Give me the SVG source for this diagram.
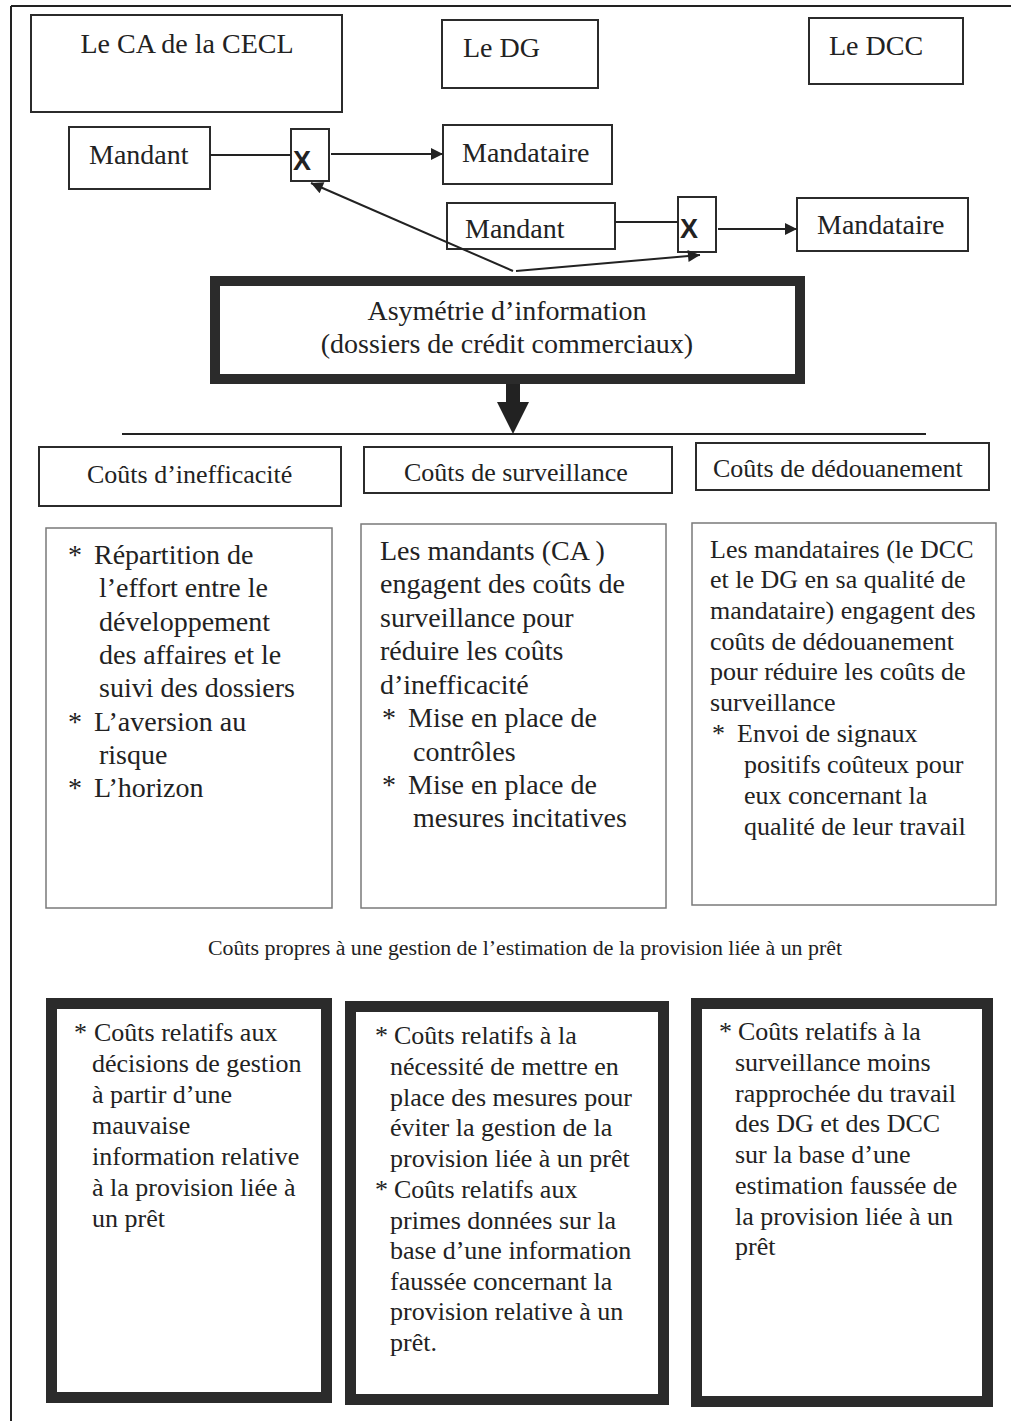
<svg xmlns="http://www.w3.org/2000/svg" width="1011" height="1421" viewBox="0 0 1011 1421">
<style>
text{font-family:"Liberation Serif","Times New Roman",serif;fill:#222}
.t28{font-size:28px}
.t26{font-size:26px}
.cap{font-size:21.9px}
.x{font-family:"Liberation Sans",Arial,sans-serif;font-weight:bold;font-size:27px}
.box{fill:#fff;stroke:#2b2b2b;stroke-width:2}
.gbox{fill:#fff;stroke:#7a7a7a;stroke-width:1.5}
.thick{fill:#fff;stroke:#2b2b2b;stroke-width:11}
.ln{stroke:#222;stroke-width:2;fill:none}
</style>
<defs>
<marker id="ah" viewBox="0 0 10 10" refX="10" refY="5" markerWidth="16" markerHeight="12" markerUnits="userSpaceOnUse" orient="auto">
<path d="M0,0 L10,5 L0,10 z" fill="#222"/>
</marker>
</defs>
<rect x="0" y="0" width="1011" height="1421" fill="#fff"/>
<g id="frame">
<line x1="11" y1="6" x2="1011" y2="6" class="ln"/>
<line x1="11" y1="6" x2="11" y2="1421" class="ln"/>
</g>

<g id="ca"><rect class="box" x="31" y="15" width="311" height="97"/><text class="t28" x="187" y="53" text-anchor="middle">Le CA de la CECL</text></g>
<g id="dg"><rect class="box" x="442" y="20" width="156" height="68"/><text class="t28" x="463" y="57">Le DG</text></g>
<g id="dcc"><rect class="box" x="809" y="18" width="154" height="66"/><text class="t28" x="829" y="55">Le DCC</text></g>

<g id="mandant1"><rect class="box" x="69" y="127" width="141" height="62"/><text class="t28" x="89" y="164">Mandant</text></g>
<g id="x1"><rect class="box" x="291" y="129" width="38" height="52"/><text class="x" x="293" y="170">X</text></g>
<g id="mandataire1"><rect class="box" x="443" y="125" width="169" height="59"/><text class="t28" x="462" y="162">Mandataire</text></g>

<g id="mandant2"><rect class="box" x="447" y="203" width="168" height="46"/><text class="t28" x="465" y="238">Mandant</text></g>
<g id="x2"><rect class="box" x="678" y="197" width="38" height="55"/><text class="x" x="680" y="238">X</text></g>
<g id="mandataire2"><rect class="box" x="797" y="198" width="171" height="53"/><text class="t28" x="817" y="234">Mandataire</text></g>

<g id="asymetrie"><rect x="215" y="281" width="585" height="98" fill="#fff" stroke="#2b2b2b" stroke-width="10"/>
<text class="t28" x="507" y="320" text-anchor="middle">Asymétrie d’information</text>
<text class="t28" x="507" y="353" text-anchor="middle">(dossiers de crédit commerciaux)</text></g>

<g id="connectors">
<line x1="210" y1="155" x2="291" y2="155" class="ln"/>
<line x1="331" y1="154" x2="443" y2="154" class="ln" marker-end="url(#ah)"/>
<line x1="615" y1="222" x2="678" y2="222" class="ln"/>
<line x1="718" y1="229" x2="797" y2="229" class="ln" marker-end="url(#ah)"/>
<line x1="513" y1="271" x2="311" y2="183" class="ln" marker-end="url(#ah)"/>
<line x1="516" y1="271" x2="700" y2="255" class="ln" marker-end="url(#ah)"/>
<rect x="506" y="384" width="14" height="19" fill="#222"/>
<path d="M497,402 L529,402 L513,434 z" fill="#222"/>
<line x1="122" y1="434" x2="926" y2="434" stroke="#222" stroke-width="1.8"/>
</g>

<g id="c-ineff"><rect class="box" x="39" y="447" width="302" height="59" stroke-width="1.8"/><text class="t26" x="87" y="483">Coûts d’inefficacité</text></g>
<g id="c-surv"><rect class="box" x="364" y="447" width="308" height="46" stroke-width="1.8"/><text class="t26" x="404" y="481">Coûts de surveillance</text></g>
<g id="c-dedou"><rect class="box" x="696" y="443" width="293" height="47" stroke-width="1.8"/><text class="t26" x="713" y="477">Coûts de dédouanement</text></g>

<g id="d-ineff"><rect class="gbox" x="46" y="528" width="286" height="380"/>
<text class="t28"><tspan x="68" y="564">*</tspan><tspan x="94" y="564">Répartition de</tspan>
<tspan x="99" y="597">l’effort entre le</tspan>
<tspan x="99" y="631">développement</tspan>
<tspan x="99" y="664">des affaires et le</tspan>
<tspan x="99" y="697">suivi des dossiers</tspan>
<tspan x="68" y="731">*</tspan><tspan x="94" y="731">L’aversion au</tspan>
<tspan x="99" y="764">risque</tspan>
<tspan x="68" y="797">*</tspan><tspan x="94" y="797">L’horizon</tspan></text></g>

<g id="d-surv"><rect class="gbox" x="361" y="524" width="305" height="384"/>
<text class="t28"><tspan x="380" y="560">Les mandants (CA )</tspan>
<tspan x="380" y="593">engagent des coûts de</tspan>
<tspan x="380" y="627">surveillance pour</tspan>
<tspan x="380" y="660">réduire les coûts</tspan>
<tspan x="380" y="694">d’inefficacité</tspan>
<tspan x="382" y="727">*</tspan><tspan x="408" y="727">Mise en place de</tspan>
<tspan x="413" y="761">contrôles</tspan>
<tspan x="382" y="794">*</tspan><tspan x="408" y="794">Mise en place de</tspan>
<tspan x="413" y="827">mesures incitatives</tspan></text></g>

<g id="d-dedou"><rect class="gbox" x="692" y="523" width="304" height="382"/>
<text class="t26"><tspan x="710" y="558">Les mandataires (le DCC</tspan>
<tspan x="710" y="588">et le DG en sa qualité de</tspan>
<tspan x="710" y="619">mandataire) engagent des</tspan>
<tspan x="710" y="650">coûts de dédouanement</tspan>
<tspan x="710" y="680">pour réduire les coûts de</tspan>
<tspan x="710" y="711">surveillance</tspan>
<tspan x="712" y="742">*</tspan><tspan x="737" y="742">Envoi de signaux</tspan>
<tspan x="744" y="773">positifs coûteux pour</tspan>
<tspan x="744" y="804">eux concernant la</tspan>
<tspan x="744" y="835">qualité de leur travail</tspan></text></g>

<g id="caption"><text class="cap" x="525" y="955" text-anchor="middle">Coûts propres  à une gestion de l’estimation de la provision liée à un prêt</text></g>

<g id="b-ineff"><rect class="thick" x="51.5" y="1003.5" width="275" height="394"/>
<text class="t26"><tspan x="74" y="1041">*</tspan><tspan x="94" y="1041">Coûts relatifs aux</tspan>
<tspan x="92" y="1072">décisions de gestion</tspan>
<tspan x="92" y="1103">à partir d’une</tspan>
<tspan x="92" y="1134">mauvaise</tspan>
<tspan x="92" y="1165">information relative</tspan>
<tspan x="92" y="1196">à la provision liée à</tspan>
<tspan x="92" y="1227">un prêt</tspan></text></g>

<g id="b-surv"><rect class="thick" x="350.5" y="1006.5" width="313" height="393"/>
<text class="t26"><tspan x="375" y="1044">*</tspan><tspan x="394" y="1044">Coûts relatifs à la</tspan>
<tspan x="390" y="1075">nécessité de mettre en</tspan>
<tspan x="390" y="1106">place des mesures pour</tspan>
<tspan x="390" y="1136">éviter la gestion de la</tspan>
<tspan x="390" y="1167">provision liée à un prêt</tspan>
<tspan x="375" y="1198">*</tspan><tspan x="394" y="1198">Coûts relatifs aux</tspan>
<tspan x="390" y="1229">primes données sur la</tspan>
<tspan x="390" y="1259">base d’une information</tspan>
<tspan x="390" y="1290">faussée concernant la</tspan>
<tspan x="390" y="1320">provision relative à un</tspan>
<tspan x="390" y="1351">prêt.</tspan></text></g>

<g id="b-dedou"><rect class="thick" x="696.5" y="1003.5" width="291" height="398"/>
<text class="t26"><tspan x="719" y="1040">*</tspan><tspan x="738" y="1040">Coûts relatifs à la</tspan>
<tspan x="735" y="1071">surveillance moins</tspan>
<tspan x="735" y="1102">rapprochée du travail</tspan>
<tspan x="735" y="1132">des DG et des DCC</tspan>
<tspan x="735" y="1163">sur la base d’une</tspan>
<tspan x="735" y="1194">estimation faussée de</tspan>
<tspan x="735" y="1225">la provision liée à un</tspan>
<tspan x="735" y="1255">prêt</tspan></text></g>
</svg>
